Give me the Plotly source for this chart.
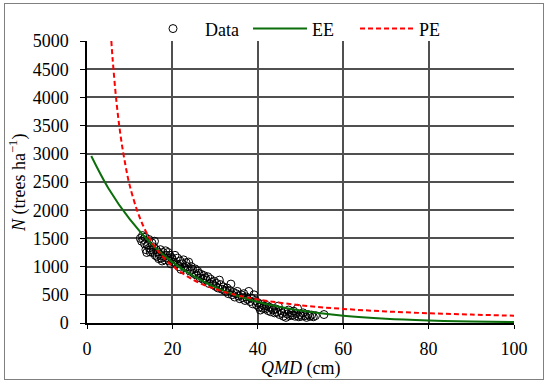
import plotly.graph_objects as go

# Observed data (QMD in cm, N in trees/ha)
data_qmd = [12.5, 12.8, 13.0, 13.2, 13.5, 13.6, 13.8, 14.0, 14.2, 14.5, 14.6, 14.8, 15.0, 15.2, 15.4, 15.6,
            15.8, 16.0, 16.2, 16.4, 16.6, 16.8, 17.0, 17.2, 17.4, 17.6, 17.8, 18.0, 18.2, 18.4, 18.6, 18.8,
            19.0, 19.2, 19.4, 19.6, 19.8, 20.0, 20.3, 20.6, 20.9, 21.2, 21.5, 21.8, 22.0, 22.3, 22.6, 22.9,
            23.2, 23.5, 23.8, 24.1, 24.4, 24.7, 25.0, 25.3, 25.6, 25.9, 26.2, 26.5, 26.8, 27.1, 27.4, 27.7,
            28.0, 28.3, 28.6, 28.9, 29.2, 29.5, 29.8, 30.1, 30.4, 30.7, 31.0, 31.3, 31.6, 31.9, 32.2, 32.5,
            32.8, 33.1, 33.4, 33.7, 34.0, 34.3, 34.6, 34.9, 35.2, 35.5, 35.8, 36.1, 36.4, 36.7, 37.0, 37.3,
            37.6, 37.9, 38.2, 38.5, 38.8, 39.1, 39.4, 39.7, 40.0, 40.3, 40.6, 40.9, 41.2, 41.5, 41.8, 42.1,
            42.4, 42.7, 43.0, 43.3, 43.6, 43.9, 44.2, 44.5, 44.8, 45.1, 45.4, 45.7, 46.0, 46.3, 46.6, 46.9,
            47.2, 47.5, 47.8, 48.1, 48.4, 48.7, 49.0, 49.3, 49.6, 49.9, 50.2, 50.6, 51.0, 51.4, 51.8, 52.2,
            52.6, 53.0, 53.5, 55.5]
data_n = [1500, 1450, 1550, 1480, 1400, 1520, 1300, 1250, 1380, 1480, 1330, 1260, 1300, 1420, 1250, 1350,
          1450, 1200, 1300, 1180, 1260, 1140, 1220, 1300, 1150, 1100, 1250, 1180, 1120, 1280, 1200, 1150,
          1250, 1100, 1200, 1050, 1160, 1130, 1080, 1200, 1050, 1150, 1000, 1100, 950, 1050, 1120, 980,
          1070, 1000, 1080, 920, 1000, 950, 880, 960, 850, 920, 880, 800, 860, 780, 840, 800,
          760, 820, 700, 780, 720, 680, 740, 650, 700, 620, 760, 680, 600, 640, 580, 560,
          620, 520, 580, 690, 500, 540, 460, 520, 560, 480, 430, 500, 450, 520, 400, 460,
          420, 560, 380, 440, 340, 500, 400, 320, 360, 280, 230, 330, 260, 300, 250, 310,
          220, 280, 200, 260, 230, 180, 250, 190, 300, 150, 220, 170, 120, 200, 100, 160,
          230, 130, 180, 140, 210, 120, 170, 260, 110, 150, 120, 180, 130, 100, 150, 120,
          140, 110, 130, 150]

# EE curve
ee_qmd = [1, 5, 10, 15, 20, 25, 30, 35, 40, 45, 50, 60, 70, 80, 90, 100]
ee_n = [2960, 2390, 1840, 1410, 1080, 830, 636, 488, 374, 287, 220, 130, 76, 45, 26, 16]

# PE curve
pe_qmd = [5.7, 6, 7, 8, 9, 10, 12, 14, 16, 18, 20, 25, 30, 35, 40, 50, 60, 70, 80, 90, 100]
pe_n = [5000, 4680, 3850, 3250, 2800, 2440, 1940, 1590, 1340, 1156, 1013, 760, 602, 495, 418, 314, 250, 205, 173, 149, 130]

x_ticks = [0, 20, 40, 60, 80, 100]
y_ticks = [0, 500, 1000, 1500, 2000, 2500, 3000, 3500, 4000, 4500, 5000]

FONT = "Liberation Serif"
FS = 18

fig = go.Figure()
fig.add_trace(go.Scatter(
    x=data_qmd, y=data_n, mode="markers", name="Data",
    marker=dict(symbol="circle-open", size=8, color="black", line=dict(width=1, color="black")),
))
fig.add_trace(go.Scatter(
    x=ee_qmd, y=ee_n, mode="lines", name="EE", line_shape="spline",
    line=dict(color="#0b6e0b", width=2),
))
fig.add_trace(go.Scatter(
    x=pe_qmd, y=pe_n, mode="lines", name="PE", line_shape="spline",
    line=dict(color="#ff0000", width=2, dash="5px,3px"),
))

fig.update_layout(
    width=550, height=384,
    margin=dict(l=87, r=36, t=41, b=61, autoexpand=False),
    paper_bgcolor="white", plot_bgcolor="white",
    font=dict(family=FONT, size=FS, color="black"),
    showlegend=True,
    legend=dict(orientation="h", x=0.1265, xanchor="left", y=1.043, yanchor="middle",
                font=dict(family=FONT, size=FS), bgcolor="rgba(0,0,0,0)", itemwidth=54,
                entrywidth=38, entrywidthmode="pixels", tracegroupgap=0),
    xaxis=dict(range=[0, 100], tickvals=x_ticks, showgrid=True, gridcolor="#505050", gridwidth=1.5,
               showline=True, linecolor="black", linewidth=1.5, ticks="outside", ticklen=4,
               tickcolor="black", zeroline=False, automargin=False, ticklabelstandoff=5,
               tickfont=dict(size=FS)),
    yaxis=dict(range=[0, 5000], tickvals=y_ticks, showgrid=True, gridcolor="#505050", gridwidth=1.5,
               showline=True, linecolor="black", linewidth=1.5, ticks="outside", ticklen=5,
               tickcolor="black", zeroline=False, automargin=False, ticklabelstandoff=8,
               tickfont=dict(size=FS)),
    annotations=[
        dict(text="<i>QMD</i> (cm)", xref="paper", yref="paper", x=0.5, y=-0.1596,
             xanchor="center", yanchor="middle", showarrow=False, font=dict(size=FS)),
        dict(text="<i>N</i> (trees ha<sup>−1</sup>)", xref="paper", yref="paper", x=-0.1616, y=0.4965,
             xanchor="center", yanchor="middle", textangle=-90, showarrow=False, font=dict(size=FS)),
    ],
)

fig.write_html(
    "out.html",
    config={"displayModeBar": False},
    post_script=(
        "document.body.style.margin='0px';"
        "var fr=document.createElement('div');"
        "fr.style.cssText='position:absolute;left:4px;top:3px;width:540px;height:377px;"
        "border:1px solid #808080;box-sizing:border-box;pointer-events:none;z-index:1000;';"
        "document.body.appendChild(fr);"
    ),
)
